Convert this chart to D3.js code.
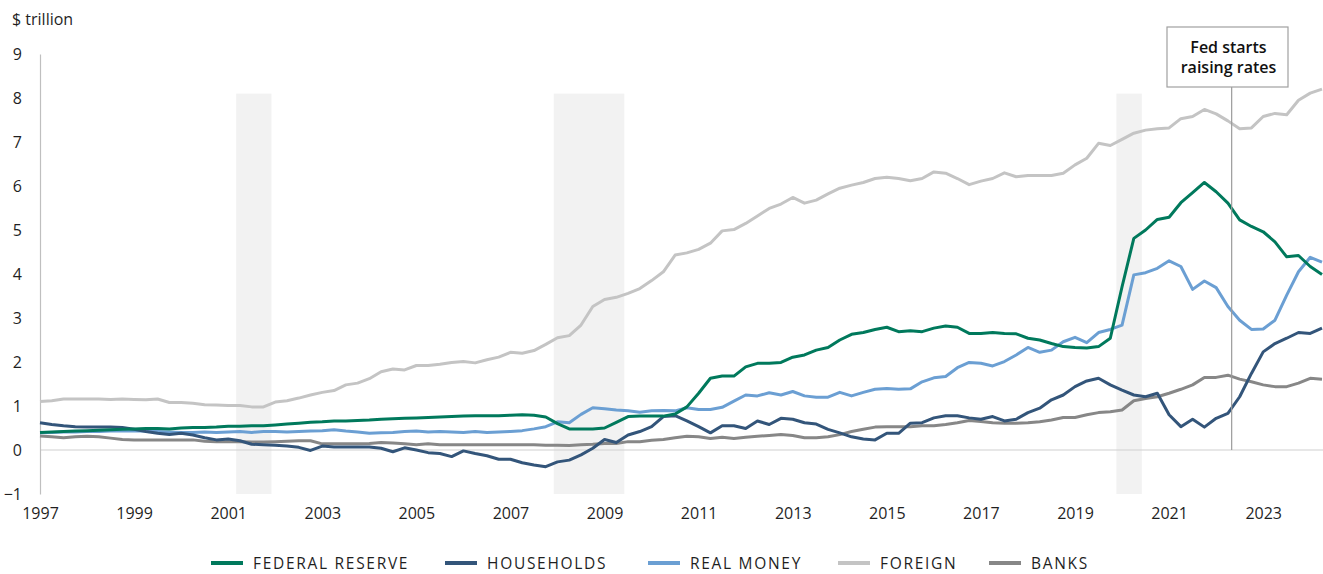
<!DOCTYPE html>
<html>
<head>
<meta charset="utf-8">
<script src="https://cdn.jsdelivr.net/npm/d3@7"></script>
<style>
  html, body { margin: 0; padding: 0; background: #fff; }
  svg { display: block; font-family: "Open Sans", "Noto Sans", sans-serif; }
</style>
</head>
<body>
<svg id="chart" width="1323" height="574"></svg>
<script>
// U.S. Treasury holdings by sector, $ trillion, quarterly from 1997 Q1
const startYear = 1997;

const federalReserve = [
  0.40, 0.41, 0.42, 0.43,  0.44, 0.45, 0.46, 0.47,  0.48, 0.49, 0.49, 0.48,  0.50, 0.51, 0.51, 0.52,
  0.54, 0.54, 0.55, 0.55,  0.57, 0.59, 0.61, 0.63,  0.64, 0.66, 0.66, 0.67,  0.68, 0.70, 0.71, 0.72,
  0.73, 0.74, 0.75, 0.76,  0.77, 0.78, 0.78, 0.78,  0.79, 0.80, 0.79, 0.75,  0.60, 0.48, 0.48, 0.48,
  0.50, 0.63, 0.76, 0.77,  0.77, 0.77, 0.82, 0.98,  1.29, 1.63, 1.68, 1.68,  1.89, 1.97, 1.97, 1.99,
  2.11, 2.16, 2.27, 2.33,  2.50, 2.63, 2.67, 2.74,  2.79, 2.69, 2.71, 2.69,  2.77, 2.82, 2.79, 2.65,
  2.65, 2.67, 2.65, 2.64,  2.54, 2.50, 2.42, 2.35,  2.33, 2.32, 2.35, 2.54,  3.71, 4.81, 5.00, 5.24,
  5.29, 5.62, 5.85, 6.08,  5.87, 5.61, 5.23, 5.08,  4.96, 4.73, 4.39, 4.42,  4.17, 3.99
];

const households = [
  0.62, 0.58, 0.55, 0.53,  0.52, 0.52, 0.52, 0.51,  0.47, 0.42, 0.38, 0.35,  0.38, 0.34, 0.28, 0.23,
  0.25, 0.21, 0.13, 0.12,  0.11, 0.09, 0.06, -0.01, 0.09, 0.07, 0.07, 0.07,  0.07, 0.04, -0.04, 0.05,
  0.00, -0.06, -0.08, -0.15, -0.02, -0.08, -0.13, -0.21, -0.21, -0.29, -0.34, -0.38, -0.27, -0.23, -0.11, 0.04,
  0.24, 0.17, 0.34, 0.42,  0.53, 0.76, 0.78, 0.66,  0.53, 0.39, 0.55, 0.55,  0.49, 0.66, 0.58, 0.72,
  0.70, 0.62, 0.59, 0.47,  0.39, 0.30, 0.25, 0.23,  0.38, 0.38, 0.61, 0.62,  0.73, 0.78, 0.78, 0.73,
  0.70, 0.76, 0.66, 0.70,  0.85, 0.95, 1.14, 1.25,  1.44, 1.57, 1.63, 1.48,  1.36, 1.25, 1.21, 1.29,
  0.80, 0.53, 0.70, 0.52,  0.72, 0.83, 1.21, 1.74,  2.23, 2.42, 2.54, 2.67,  2.65, 2.77
];

const realMoney = [
  0.39, 0.40, 0.41, 0.41,  0.42, 0.42, 0.43, 0.43,  0.44, 0.43, 0.42, 0.41,  0.40, 0.40, 0.41, 0.40,
  0.41, 0.42, 0.40, 0.42,  0.42, 0.41, 0.42, 0.43,  0.44, 0.46, 0.43, 0.41,  0.38, 0.39, 0.40, 0.42,
  0.43, 0.41, 0.42, 0.41,  0.40, 0.42, 0.40, 0.41,  0.42, 0.44, 0.48, 0.53,  0.64, 0.62, 0.81, 0.96,
  0.94, 0.91, 0.89, 0.86,  0.89, 0.90, 0.89, 0.96,  0.92, 0.92, 0.97, 1.11,  1.25, 1.23, 1.30, 1.25,
  1.33, 1.23, 1.20, 1.20,  1.31, 1.23, 1.31, 1.38,  1.40, 1.38, 1.39, 1.55,  1.64, 1.67, 1.87, 1.99,
  1.97, 1.91, 2.01, 2.16,  2.33, 2.22, 2.27, 2.46,  2.56, 2.44, 2.67, 2.74,  2.84, 3.98, 4.03, 4.13,
  4.30, 4.17, 3.65, 3.84,  3.69, 3.26, 2.95, 2.74,  2.75, 2.95, 3.52, 4.05,  4.38, 4.27
];

const foreign = [
  1.10, 1.12, 1.16, 1.16,  1.16, 1.16, 1.15, 1.16,  1.15, 1.14, 1.16, 1.08,  1.08, 1.06, 1.03, 1.02,
  1.01, 1.01, 0.98, 0.98,  1.09, 1.12, 1.18, 1.25,  1.31, 1.35, 1.48, 1.52,  1.62, 1.78, 1.84, 1.82,
  1.92, 1.92, 1.95, 1.99,  2.01, 1.98, 2.05, 2.11,  2.22, 2.20, 2.26, 2.40,  2.55, 2.60, 2.84, 3.26,
  3.42, 3.47, 3.56, 3.67,  3.85, 4.05, 4.43, 4.48,  4.56, 4.70, 4.98, 5.01,  5.15, 5.32, 5.49, 5.59,
  5.74, 5.61, 5.68, 5.82,  5.95, 6.02, 6.08, 6.17,  6.20, 6.17, 6.12, 6.17,  6.32, 6.29, 6.17, 6.03,
  6.11, 6.17, 6.30, 6.21,  6.24, 6.24, 6.24, 6.29,  6.48, 6.63, 6.97, 6.92,  7.06, 7.20, 7.27, 7.30,
  7.32, 7.53, 7.58, 7.74,  7.64, 7.48, 7.30, 7.32,  7.58, 7.65, 7.62, 7.95,  8.11, 8.20
];

const banks = [
  0.32, 0.30, 0.28, 0.30,  0.31, 0.30, 0.27, 0.24,  0.23, 0.23, 0.23, 0.23,  0.23, 0.23, 0.20, 0.19,
  0.19, 0.19, 0.18, 0.18,  0.19, 0.20, 0.21, 0.21,  0.14, 0.14, 0.14, 0.14,  0.15, 0.17, 0.16, 0.14,
  0.12, 0.14, 0.12, 0.12,  0.12, 0.12, 0.12, 0.12,  0.12, 0.12, 0.12, 0.11,  0.11, 0.10, 0.12, 0.13,
  0.15, 0.15, 0.19, 0.19,  0.22, 0.24, 0.28, 0.31,  0.30, 0.26, 0.29, 0.26,  0.29, 0.31, 0.33, 0.35,
  0.33, 0.28, 0.28, 0.30,  0.35, 0.42, 0.47, 0.52,  0.53, 0.53, 0.53, 0.55,  0.55, 0.58, 0.62, 0.67,
  0.65, 0.62, 0.61, 0.61,  0.62, 0.64, 0.68, 0.74,  0.74, 0.80, 0.85, 0.87,  0.91, 1.12, 1.17, 1.21,
  1.29, 1.38, 1.48, 1.65,  1.65, 1.70, 1.61, 1.55,  1.48, 1.44, 1.44, 1.52,  1.63, 1.61
];

const yearTicks = [1997, 1999, 2001, 2003, 2005, 2007, 2009, 2011, 2013, 2015, 2017, 2019, 2021, 2023];
const valueTicks = [-1, 0, 1, 2, 3, 4, 5, 6, 7, 8, 9];

// Recession periods (decimal years)
const recessions = [[2001.17, 2001.92], [2007.92, 2009.42], [2019.88, 2020.42]];
const recessionTop = 8.1;

const rateHikeDate = 2022.33;
const rateHikeLabel = ["Fed starts", "raising rates"];

const seriesNames = ["FEDERAL RESERVE", "HOUSEHOLDS", "REAL MONEY", "FOREIGN", "BANKS"];
const seriesValues = [federalReserve, households, realMoney, foreign, banks];
const seriesColors = ["#00795c", "#33557a", "#6b9fd3", "#c4c4c4", "#878787"];

// ---- layout ----
const svg = d3.select("#chart");
const x = d3.scaleLinear().domain([1997, 2024.25]).range([40, 1322]);
const y = d3.scaleLinear().domain([-1, 9]).range([494, 54]);
const textColor = "#1f1f1f";
const fontStack = "'Open Sans', 'Noto Sans', sans-serif";

const quarters = d3.range(federalReserve.length).map(i => startYear + i * 0.25);

// recession shading
svg.append("g").selectAll("rect").data(recessions).join("rect")
  .attr("x", d => x(d[0]))
  .attr("width", d => x(d[1]) - x(d[0]))
  .attr("y", y(recessionTop))
  .attr("height", y(-1) - y(recessionTop))
  .attr("fill", "#f2f2f2");

// zero line
svg.append("line")
  .attr("x1", x(1997)).attr("x2", 1323)
  .attr("y1", y(0)).attr("y2", y(0))
  .attr("stroke", "#d0d0d0").attr("stroke-width", 1.2);

// y axis
const yAxis = svg.append("g")
  .attr("transform", `translate(${x(1997)},0)`)
  .call(d3.axisLeft(y).tickValues(valueTicks).tickSize(0).tickPadding(18).tickFormat(d3.format("d")));
yAxis.select(".domain").attr("stroke", "#bfbfbf").attr("stroke-width", 1.2);
yAxis.selectAll("text").attr("font-size", 16).attr("fill", textColor).attr("font-family", fontStack);

// x axis labels
const xAxis = svg.append("g")
  .attr("transform", `translate(0,${y(-1)})`)
  .call(d3.axisBottom(x).tickValues(yearTicks).tickSize(0).tickPadding(14).tickFormat(d3.format("d")));
xAxis.select(".domain").remove();
xAxis.selectAll("text").attr("font-size", 16).attr("fill", textColor).attr("font-family", fontStack);

// unit label
svg.append("text")
  .attr("x", 12).attr("y", 25)
  .attr("font-size", 16).attr("fill", textColor)
  .text("$ trillion");

// series lines (foreign drawn first, fed last)
const line = d3.line()
  .x((d, i) => x(quarters[i]))
  .y(d => y(d));
const drawOrder = [3, 4, 2, 1, 0];
svg.append("g").selectAll("path").data(drawOrder).join("path")
  .attr("d", k => line(seriesValues[k]))
  .attr("fill", "none")
  .attr("stroke", k => seriesColors[k])
  .attr("stroke-width", 3)
  .attr("stroke-linejoin", "round");

// rate-hike annotation
const boxX = 1167, boxY = 27, boxW = 121, boxH = 60;
svg.append("line")
  .attr("x1", x(rateHikeDate)).attr("x2", x(rateHikeDate))
  .attr("y1", boxY + boxH).attr("y2", y(0))
  .attr("stroke", "#9a9a9a").attr("stroke-width", 1.2);
svg.append("rect")
  .attr("x", boxX).attr("y", boxY).attr("width", boxW).attr("height", boxH)
  .attr("fill", "#fff").attr("stroke", "#a0a0a0").attr("stroke-width", 1.2);
svg.append("g").selectAll("text").data(rateHikeLabel).join("text")
  .attr("x", boxX + boxW / 2 + 1)
  .attr("y", (d, i) => boxY + 26 + i * 20)
  .attr("text-anchor", "middle")
  .attr("font-size", 16).attr("font-weight", 600).attr("fill", "#111")
  .text(d => d);

// legend
const legendX = [211, 445, 648, 838, 989];
const legendY = 563;
const legend = svg.append("g").selectAll("g").data(seriesNames).join("g")
  .attr("transform", (d, i) => `translate(${legendX[i]},${legendY})`);
legend.append("line")
  .attr("x1", 0).attr("x2", 32).attr("y1", 0).attr("y2", 0)
  .attr("stroke", (d, i) => seriesColors[i]).attr("stroke-width", 4);
legend.append("text")
  .attr("x", 42).attr("y", 6)
  .attr("font-size", 15.5).attr("letter-spacing", 1.7).attr("fill", textColor)
  .text(d => d);
</script>
</body>
</html>
